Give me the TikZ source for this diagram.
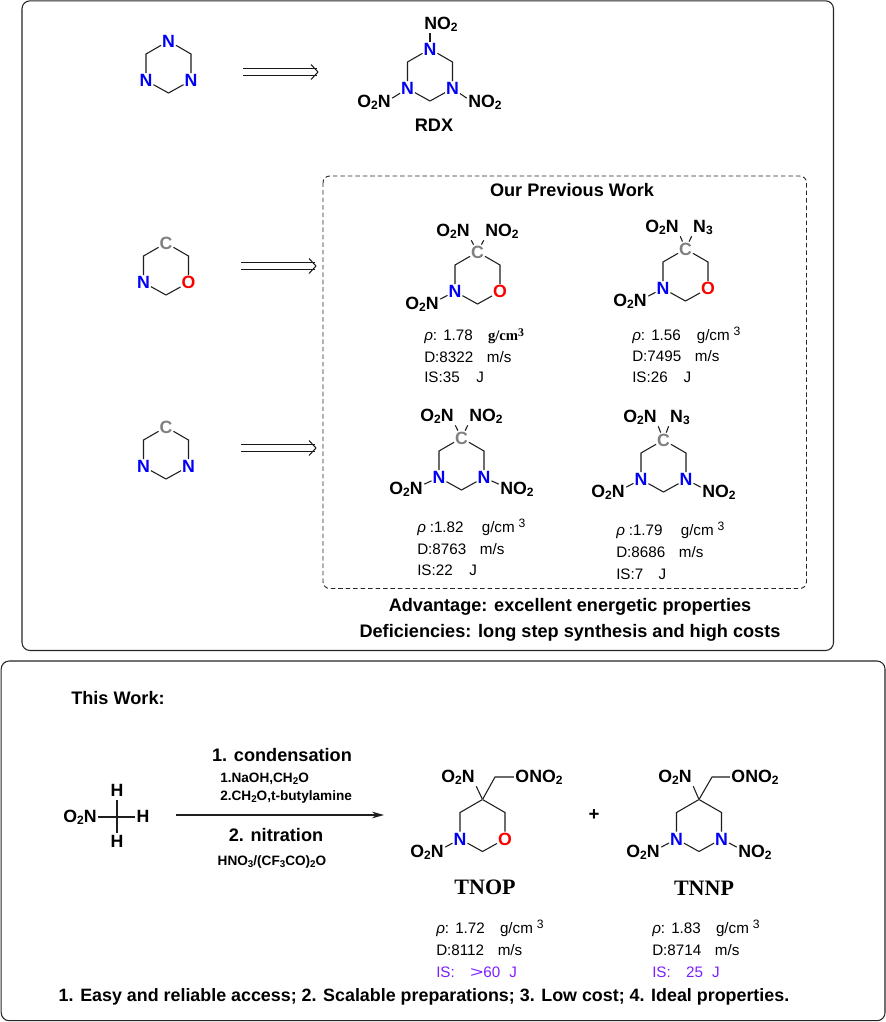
\documentclass[tikz,border=0pt]{standalone}
\usepackage{fontspec}
\usetikzlibrary{arrows.meta}
\setmainfont{Liberation Sans}
\newfontfamily\tms{Liberation Serif}
\definecolor{nblue}{RGB}{0,0,245}
\definecolor{ored}{RGB}{250,0,0}
\definecolor{cgray}{RGB}{128,128,128}
\definecolor{ispurple}{RGB}{125,30,255}
\definecolor{bondc}{RGB}{30,30,30}
\newcommand\dn{\raisebox{-0.28ex}{\scalebox{0.68}{2}}}
\newcommand\dt{\raisebox{-0.28ex}{\scalebox{0.68}{3}}}
\newcommand\sdn{\raisebox{-0.25ex}{\scalebox{0.72}{2}}}
\newcommand\sdt{\raisebox{-0.25ex}{\scalebox{0.72}{3}}}
\newcommand\up[1]{\raisebox{0.55ex}{\scalebox{0.8}{#1}}}
\newcommand\rh{\textit{ρ}}
\tikzset{
  atomfont/.style={font=\fontsize{13.3}{15}\selectfont\bfseries},
  atom/.style={atomfont,inner sep=0.6pt,text height=9.5pt,text depth=0pt},
  atomN/.style={atom,text=nblue},
  atomO/.style={atom,text=ored},
  atomC/.style={atom,text=cgray},
  apex/.style={inner sep=0pt,minimum size=0pt},
  sub/.style={atomfont,inner sep=1pt,text=black,text height=9.5pt,text depth=2pt},
  bond/.style={draw=bondc,line width=0.8pt},
  prop/.style={anchor=base west,inner sep=0pt,font=\fontsize{11.4}{13}\selectfont},
  head/.style={font=\fontsize{13.6}{15}\selectfont\bfseries,inner sep=0pt},
  small/.style={font=\fontsize{10.2}{12}\selectfont\bfseries,inner sep=0pt},
  panel/.style={draw=black!85,line width=0.8pt,rounded corners=6pt},
  dbl/.style={draw=black!90,line width=0.75pt},
  molname/.style={font=\fontsize{16.5}{18}\selectfont\bfseries\tms,inner sep=0pt},
}
% ring: prefix, cx, cy, top style, top text, lower-right style, lower-right text
\newcommand\ring[7]{%
  \node[#4] (#1t) at (#2,#3-26) {#5};
  \coordinate (#1ur) at (#2+22.5,#3-13);
  \node[#6] (#1lr) at (#2+22.5,#3+13.5) {#7};
  \coordinate (#1b) at (#2,#3+26);
  \node[atomN] (#1ll) at (#2-22.5,#3+13.5) {N};
  \coordinate (#1ul) at (#2-22.5,#3-13);
  \draw[bond] (#1t) -- (#1ur) -- (#1lr);
  \draw[bond] (#1lr) -- (#1b) -- (#1ll);
  \draw[bond] (#1ll) -- (#1ul) -- (#1t);
}
% double arrow: prefix, x1, x2, y
\newcommand\dblarrow[4]{%
  \coordinate (#1a1) at (#2,#4-3.7);
  \coordinate (#1b1) at (#3-1.5,#4-3.7);
  \coordinate (#1a2) at (#2,#4+3.7);
  \coordinate (#1b2) at (#3-1.5,#4+3.7);
  \coordinate (#1tip) at (#3,#4);
  \coordinate (#1h1) at (#3-7,#4-7.5);
  \coordinate (#1h2) at (#3-7,#4+7.5);
  \draw[dbl] (#1a1) -- (#1b1);
  \draw[dbl] (#1a2) -- (#1b2);
  \draw[dbl] (#1h1) -- (#1tip) -- (#1h2);
}
\begin{document}
\begin{tikzpicture}[x=0.75pt,y=-0.75pt]
\useasboundingbox (0,0) rectangle (886,1022);
\fill[white] (0,0) rectangle (886,1022);
% panels
\draw[panel] (22,0.8) rectangle (833.5,650.5);
\draw[panel] (1.2,661) rectangle (885,1020.7);
\draw[draw=black!85,line width=0.7pt,dashed,dash pattern=on 3.4pt off 2.2pt,rounded corners=5pt] (323,176) rectangle (806.5,588.5);
% top row
\ring{a}{168.5}{67}{atomN}{N}{atomN}{N}
\dblarrow{ar1}{243}{318}{72}
\ring{b}{430}{75}{atomN}{N}{atomN}{N}
\node[sub] (bno) at (441,24) {NO\dn};
\node[sub] (bl) at (374,102) {O\dn N};
\node[sub] (br) at (485,102) {NO\dn};
\draw[bond] (bt) -- (bt|-bno.south);
\draw[bond] (bl.12) -- (bll);
\draw[bond] (blr) -- (br.168);
\node[head] (rdx) at (434,125.5) {RDX};
% second and third rows, templates
\ring{c}{166}{269}{atomC}{C}{atomO}{O}
\dblarrow{ar2}{241}{316}{266}
\ring{d}{166}{453}{atomC}{C}{atomN}{N}
\dblarrow{ar3}{241}{316}{448}
\node[head] (prev) at (572,190) {Our Previous Work};
% molecule e
\ring{e}{477.5}{278}{atomC}{C}{atomO}{O}
\node[sub] (e1) at (453,231) {O\dn N};
\node[sub] (e2) at (502,231) {NO\dn};
\node[sub] (e3) at (422,304) {O\dn N};
\draw[bond] (et) -- (e1.south east);
\draw[bond] (et) -- (e2.south west);
\draw[bond] (e3.15) -- (ell);
\node[prop] (e4) at (424,340) {\rh:\hspace{0.4em}1.78\hspace{1em}{\tms\bfseries\fontsize{11}{12}\selectfont g/cm\up{3}}};
\node[prop] (e5) at (424,362.5) {D:8322\hspace{0.9em}m/s};
\node[prop] (e6) at (424,382.5) {IS:35\hspace{1.1em}J};
% molecule f
\ring{f}{685.5}{275}{atomC}{C}{atomO}{O}
\node[sub] (f1) at (662,227) {O\dn N};
\node[sub] (f2) at (703,227) {N\dt};
\node[sub] (f3) at (630,301) {O\dn N};
\draw[bond] (ft) -- (f1.south east);
\draw[bond] (ft) -- (f2.south west);
\draw[bond] (f3.15) -- (fll);
\node[prop] (f4) at (632,340) {\rh:\hspace{0.4em}1.56\hspace{1.05em}g/cm\hspace{0.25em}\up{3}};
\node[prop] (f5) at (632,361.5) {D:7495\hspace{0.9em}m/s};
\node[prop] (f6) at (632,382.5) {IS:26\hspace{1.05em}J};
% molecule g
\ring{g}{461.5}{464}{atomC}{C}{atomN}{N}
\node[sub] (g1) at (437,416) {O\dn N};
\node[sub] (g2) at (486,416) {NO\dn};
\node[sub] (g3) at (406,489) {O\dn N};
\node[sub] (g4) at (517,489) {NO\dn};
\draw[bond] (gt) -- (g1.south east);
\draw[bond] (gt) -- (g2.south west);
\draw[bond] (g3.15) -- (gll);
\draw[bond] (glr) -- (g4.165);
\node[prop] (g5) at (417,532) {\rh\hspace{0.25em}:1.82\hspace{1.2em}g/cm\hspace{0.25em}\up{3}};
\node[prop] (g6) at (417,554.5) {D:8763\hspace{0.9em}m/s};
\node[prop] (g7) at (417,575.5) {IS:22\hspace{1.1em}J};
% molecule h
\ring{h}{663.5}{466}{atomC}{C}{atomN}{N}
\node[sub] (h1) at (640,417) {O\dn N};
\node[sub] (h2) at (680,417) {N\dt};
\node[sub] (h3) at (608,492) {O\dn N};
\node[sub] (h4) at (719,492) {NO\dn};
\draw[bond] (ht) -- (h1.south east);
\draw[bond] (ht) -- (h2.south west);
\draw[bond] (h3.15) -- (hll);
\draw[bond] (hlr) -- (h4.165);
\node[prop] (h5) at (616,535) {\rh\hspace{0.25em}:1.79\hspace{1.2em}g/cm\hspace{0.25em}\up{3}};
\node[prop] (h6) at (616,557.5) {D:8686\hspace{0.9em}m/s};
\node[prop] (h7) at (616,579.5) {IS:7\hspace{1em}J};
\node[head] (adv) at (570,607) {Advantage: excellent energetic properties};
\node[head] (def) at (570,633) {Deficiencies: long step synthesis and high costs};
% this work
\node[head,anchor=west] (tw) at (71,698) {This Work:};
\node[sub] (mo) at (80,817) {O\dn N};
\coordinate (mc) at (117,817);
\node[sub] (mh1) at (117,791) {H};
\node[sub] (mh2) at (117,842) {H};
\node[sub] (mh3) at (143,817) {H};
\draw[bond] (mo) -- (mh3);
\draw[bond] (mh1) -- (mh2);
\coordinate (rs) at (176,815);
\coordinate (re) at (384,815);
\draw[draw=bondc,line width=0.8pt,-{Stealth[length=9pt,width=5pt]}] (rs) -- (re);
\node[head] (r1) at (282,755) {1. condensation};
\node[small,anchor=west] (r2) at (220,779) {1.NaOH,CH\sdn O};
\node[small,anchor=west] (r3) at (220,797) {2.CH\sdn O,t-butylamine};
\node[head] (r4) at (276,835) {2. nitration};
\node[small] (r5) at (272,862) {HNO\sdt/(CF\sdt CO)\sdn O};
% TNOP
\ring{p}{482.5}{825.5}{apex}{}{atomO}{O}
\node[sub] (p1) at (458,777) {O\dn N};
\coordinate (pc) at (495,777);
\node[sub] (p2) at (539,777) {ONO\dn};
\node[sub] (p3) at (427,852) {O\dn N};
\draw[bond] (pt) -- (p1.south east);
\draw[bond] (pt) -- (pc) -- (p2);
\draw[bond] (p3.15) -- (pll);
\node[molname] (pn) at (485,887) {TNOP};
\node[prop] (p4) at (436,933) {\rh:\hspace{0.4em}1.72\hspace{1em}g/cm\hspace{0.25em}\up{3}};
\node[prop] (p5) at (436,955.5) {D:8112\hspace{0.9em}m/s};
\node[prop,text=ispurple] (p6) at (436,977.5) {IS:\hspace{1em}\scalebox{1.5}[1]{>}60\hspace{0.6em}J};
\node[font=\fontsize{14}{15}\selectfont\bfseries,inner sep=0pt] (plus) at (594,815) {+};
% TNNP
\ring{q}{699}{825.5}{apex}{}{atomN}{N}
\node[sub] (q1) at (675,777) {O\dn N};
\coordinate (qc) at (712,777);
\node[sub] (q2) at (755,777) {ONO\dn};
\node[sub] (q3) at (643,852) {O\dn N};
\node[sub] (q4) at (755,852) {NO\dn};
\draw[bond] (qt) -- (q1.south east);
\draw[bond] (qt) -- (qc) -- (q2);
\draw[bond] (q3.15) -- (qll);
\draw[bond] (qlr) -- (q4.165);
\node[molname] (qn) at (704,888) {TNNP};
\node[prop] (q5) at (652,933) {\rh:\hspace{0.4em}1.83\hspace{1em}g/cm\hspace{0.25em}\up{3}};
\node[prop] (q6) at (652,955.5) {D:8714\hspace{0.9em}m/s};
\node[prop,text=ispurple] (q7) at (652,977.5) {IS:\hspace{1em}25\hspace{0.6em}J};
\node[head,font=\fontsize{13.4}{15}\selectfont\bfseries] (sum) at (424,997) {1. Easy and reliable access; 2. Scalable preparations; 3. Low cost; 4. Ideal properties.};
\end{tikzpicture}
\end{document}
